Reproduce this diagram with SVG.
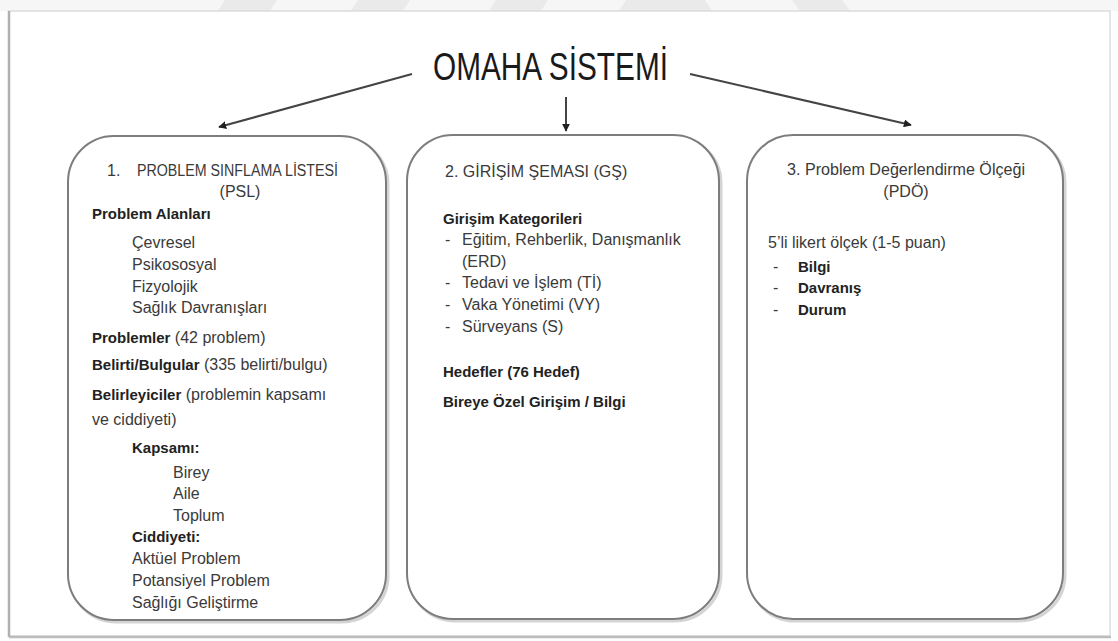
<svg xmlns="http://www.w3.org/2000/svg" width="1118" height="641" viewBox="0 0 1118 641">
<defs>
<style>
.t{font-family:"Liberation Sans",Arial,sans-serif;font-size:16px;fill:#3a3a3a}
.b{font-weight:bold;fill:#222;font-size:15px}
.box{fill:#fff;stroke:#7d7d7d;stroke-width:2}
.sh{fill:none;stroke:#d4d4d4;stroke-width:3}
.con{stroke:#444;stroke-width:2;fill:none}
.wm{fill:#eaeaea}
</style>
<marker id="ah" viewBox="0 0 10 10" refX="9" refY="5" markerWidth="4" markerHeight="4" orient="auto" markerUnits="strokeWidth">
<path d="M0,0 L10,5 L0,10 z" fill="#222"/>
</marker>
</defs>
<rect x="0" y="0" width="1118" height="641" fill="#fff"/>
<rect x="0" y="0" width="1118" height="11" fill="#f6f6f6"/>
<g id="watermark">
<polygon class="wm" points="225,0 277,0 270,11 218,11"/>
<polygon class="wm" points="358,0 410,0 403,11 351,11"/>
<polygon class="wm" points="496,0 548,0 541,11 489,11"/>
<polygon class="wm" points="626,0 705,0 712,11 619,11"/>
<polygon class="wm" points="792,0 842,0 850,11 800,11"/>
</g>
<g id="frame">
<rect x="9" y="11" width="1101" height="625" fill="#fff" stroke="#dcdcdc" stroke-width="1.5"/>
<line x1="9" y1="11" x2="9" y2="637" stroke="#b0b0b0" stroke-width="2.5"/>
<line x1="9" y1="637" x2="1111" y2="637" stroke="#bcbcbc" stroke-width="2.5"/>
</g>
<g id="title">
<text x="433" y="80" font-family="'Liberation Sans',Arial,sans-serif" font-size="39" fill="#1a1a1a" textLength="235" lengthAdjust="spacingAndGlyphs">OMAHA SİSTEMİ</text>
</g>
<g id="connectors">
<line class="con" x1="412" y1="74" x2="219" y2="127" marker-end="url(#ah)"/>
<line class="con" x1="566" y1="97" x2="566" y2="131" stroke-width="1.6" marker-end="url(#ah)"/>
<line class="con" x1="690" y1="74" x2="911" y2="125" marker-end="url(#ah)"/>
</g>
<g id="psl">
<rect x="70" y="138" width="318" height="484" rx="46" class="sh"/>
<rect x="68" y="136" width="318" height="484" rx="46" class="box"/>
<text class="t" x="107" y="176" font-size="15">1.<tspan x="137" textLength="201" lengthAdjust="spacingAndGlyphs">PROBLEM SINFLAMA LİSTESİ</tspan></text>
<text class="t" x="240" y="197" text-anchor="middle" font-size="15">(PSL)</text>
<text class="t b" x="92" y="219">Problem Alanları</text>
<text class="t" x="132" y="248">Çevresel</text>
<text class="t" x="132" y="270">Psikososyal</text>
<text class="t" x="132" y="292">Fizyolojik</text>
<text class="t" x="132" y="313">Sağlık Davranışları</text>
<text class="t" x="92" y="343"><tspan class="b">Problemler</tspan> (42 problem)</text>
<text class="t" x="92" y="370"><tspan class="b">Belirti/Bulgular</tspan> (335 belirti/bulgu)</text>
<text class="t" x="92" y="400"><tspan class="b">Belirleyiciler</tspan> (problemin kapsamı</text>
<text class="t" x="92" y="425">ve ciddiyeti)</text>
<text class="t b" x="132" y="453">Kapsamı:</text>
<text class="t" x="173" y="478">Birey</text>
<text class="t" x="173" y="499">Aile</text>
<text class="t" x="173" y="521">Toplum</text>
<text class="t b" x="132" y="542">Ciddiyeti:</text>
<text class="t" x="132" y="564">Aktüel Problem</text>
<text class="t" x="132" y="586">Potansiyel Problem</text>
<text class="t" x="132" y="608">Sağlığı Geliştirme</text>
</g>
<g id="gs">
<rect x="409" y="137" width="312" height="484" rx="46" class="sh"/>
<rect x="407" y="135" width="312" height="484" rx="46" class="box"/>
<text class="t" x="445" y="177" font-size="14.5">2. GİRİŞİM ŞEMASI (GŞ)</text>
<text class="t b" x="443" y="224">Girişim Kategorileri</text>
<text class="t" x="445" y="245">-<tspan x="462">Eğitim, Rehberlik, Danışmanlık</tspan></text>
<text class="t" x="462" y="267">(ERD)</text>
<text class="t" x="445" y="288">-<tspan x="462">Tedavi ve İşlem (Tİ)</tspan></text>
<text class="t" x="445" y="310">-<tspan x="462">Vaka Yönetimi (VY)</tspan></text>
<text class="t" x="445" y="332">-<tspan x="462">Sürveyans (S)</tspan></text>
<text class="t b" x="443" y="377">Hedefler (76 Hedef)</text>
<text class="t b" x="443" y="407">Bireye Özel Girişim / Bilgi</text>
</g>
<g id="pdo">
<rect x="749" y="137" width="316" height="484" rx="46" class="sh"/>
<rect x="747" y="135" width="316" height="484" rx="46" class="box"/>
<text class="t" x="787" y="175" textLength="238" lengthAdjust="spacingAndGlyphs">3. Problem Değerlendirme Ölçeği</text>
<text class="t" x="906" y="197" text-anchor="middle">(PDÖ)</text>
<text class="t" x="768" y="248">5’li likert ölçek (1-5 puan)</text>
<text class="t" x="773" y="272">-<tspan class="b" x="798">Bilgi</tspan></text>
<text class="t" x="773" y="293">-<tspan class="b" x="798">Davranış</tspan></text>
<text class="t" x="773" y="315">-<tspan class="b" x="798">Durum</tspan></text>
</g>
</svg>
